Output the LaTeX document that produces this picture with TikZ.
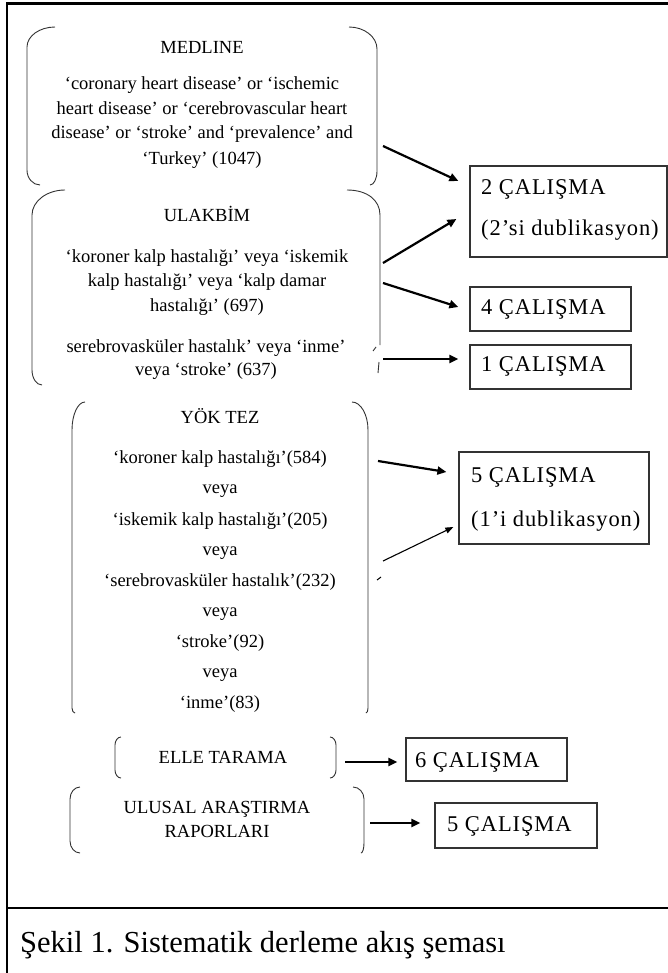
\documentclass[tikz,border=0pt]{standalone}
\usepackage{fontspec}
\setmainfont{Liberation Serif}
\newfontfamily\boxfont[LetterSpace=4]{Liberation Serif}
\usetikzlibrary{arrows.meta,calc}

% left and right bracket: x, top, bottom, top-curl width, top-curl height, bottom-curl width, bottom-curl height
\newcommand\lbrk[7]{%
 \draw[brk] ({#1+#4},#2) .. controls ({#1+0.45*#4},#2) and (#1,{#2+0.45*#5}) .. (#1,{#2+#5})
   -- (#1,{#3-#7}) .. controls (#1,{#3-0.45*#7}) and ({#1+0.45*#6},#3) .. ({#1+#6},#3);}
\newcommand\rbrk[7]{%
 \draw[brk] ({#1-#4},#2) .. controls ({#1-0.45*#4},#2) and (#1,{#2+0.45*#5}) .. (#1,{#2+#5})
   -- (#1,{#3-#7}) .. controls (#1,{#3-0.45*#7}) and ({#1-0.45*#6},#3) .. ({#1-#6},#3);}

\tikzset{
 brk/.style={line width=0.9pt, black!80},
 cbox/.style={draw=black!80, line width=1.2pt, rectangle, inner sep=0pt},
 arr/.style={line width=2.2pt, -{Triangle[length=9pt,width=8pt]}},
 thinarr/.style={line width=1.1pt, -{Triangle[length=8pt,width=6pt]}},
 txt/.style={anchor=base, inner sep=0pt, font=\fontsize{18.5}{22}\selectfont},
 btxt/.style={anchor=base west, inner sep=0pt, font=\boxfont\fontsize{22.5}{26}\selectfont},
 frame/.style={line width=2.5pt, black}
}

\begin{document}
\begin{tikzpicture}[x=1pt,y=-1pt]
\fill[white] (0,0) rectangle (668,973);
\useasboundingbox (0,0) rectangle (668,973);

% outer frame
\draw[frame] (7,973) -- (7,3.5) -- (668,3.5);
\draw[frame] (7,908) -- (668,908);

% ---------- brackets ----------
\lbrk{27}{27}{185}{28}{20}{13}{15}
\rbrk{377}{27}{185}{28}{22}{7}{14}
\lbrk{32}{190}{385}{33}{25}{10}{15}
\draw[brk] (347,190) .. controls (367,190) and (380,200) .. (380,215) -- (380,345);
\draw[brk] (373,351) -- (376,347);
\draw[brk] (379,362) -- (378,373);
\lbrk{72}{402}{713}{13}{28}{3}{5}
\rbrk{368}{402}{713}{16}{28}{2}{5}
\lbrk{115}{737}{778}{6}{8}{6}{8}
\rbrk{336}{737}{778}{6}{8}{6}{8}
\lbrk{70}{787}{853}{10}{12}{10}{12}
\rbrk{364}{787}{853}{11}{12}{3}{10}

% ---------- bracket texts ----------
\node[txt] (m0) at (202,54) {MEDLINE};
\node[txt] (m1) at (202,90) {‘coronary heart disease’ or ‘ischemic};
\node[txt] (m2) at (202,115) {heart disease’ or ‘cerebrovascular heart};
\node[txt] (m3) at (202,139) {disease’ or ‘stroke’ and ‘prevalence’ and};
\node[txt] (m4) at (202,165) {‘Turkey’ (1047)};

\node[txt] (u0) at (207,222) {ULAKBİM};
\node[txt] (u1) at (207,262) {‘koroner kalp hastalığı’ veya ‘iskemik};
\node[txt] (u2) at (207,287) {kalp hastalığı’ veya ‘kalp damar};
\node[txt] (u3) at (207,311) {hastalığı’ (697)};
\node[txt] (u4) at (206,352) {serebrovasküler hastalık’ veya ‘inme’};
\node[txt] (u5) at (206,375) {veya ‘stroke’ (637)};

\node[txt] (y0) at (220,423) {YÖK TEZ};
\node[txt] (y1) at (220,463) {‘koroner kalp hastalığı’(584)};
\node[txt] (y2) at (220,493) {veya};
\node[txt] (y3) at (220,525) {‘iskemik kalp hastalığı’(205)};
\node[txt] (y4) at (220,555) {veya};
\node[txt] (y5) at (220,586) {‘serebrovasküler hastalık’(232)};
\node[txt] (y6) at (220,616) {veya};
\node[txt] (y7) at (220,647) {‘stroke’(92)};
\node[txt] (y8) at (220,677) {veya};
\node[txt] (y9) at (220,708) {‘inme’(83)};

\node[txt] (e0) at (223,763) {ELLE TARAMA};
\node[txt] (r1) at (217,813) {ULUSAL ARAŞTIRMA};
\node[txt] (r2) at (217,837) {RAPORLARI};

% ---------- result boxes ----------
\node[cbox, minimum width=197pt, minimum height=91pt] (b2) at (568.5,211.5) {};
\node[cbox, minimum width=161pt, minimum height=44pt] (b4) at (550.5,309) {};
\node[cbox, minimum width=161pt, minimum height=44pt] (b1) at (550.5,367) {};
\node[cbox, minimum width=190pt, minimum height=92pt] (b5) at (554,498) {};
\node[cbox, minimum width=161pt, minimum height=43pt] (b6) at (486.5,759.5) {};
\node[cbox, minimum width=162pt, minimum height=45pt] (b5b) at (516,825.5) {};

\node[btxt] (b2t1) at (481,195) {2 ÇALIŞMA};
\node[btxt] (b2t2) at (481,236) {(2’si dublikasyon)};
\node[btxt] (b4t) at (481,314) {4 ÇALIŞMA};
\node[btxt] (b1t) at (481,371) {1 ÇALIŞMA};
\node[btxt] (b5t1) at (471,482) {5 ÇALIŞMA};
\node[btxt] (b5t2) at (471,526) {(1’i dublikasyon)};
\node[btxt] (b6t) at (415,767) {6 ÇALIŞMA};
\node[btxt] (b5bt) at (447,831) {5 ÇALIŞMA};

% ---------- arrows ----------
\coordinate (s1) at (383,146);
\coordinate (s2) at (383,263);
\coordinate (s3) at (383,283);
\coordinate (s4) at (383,359);
\coordinate (s5) at (378,461);
\coordinate (s6) at (383,561);
\coordinate (s7) at (345,762);
\coordinate (s8) at (370,823);

\draw[arr] (s1) -- ($(b2.west)+(-11,-30.5)$);
\draw[arr] (s2) -- ($(b2.west)+(-13,7.5)$);
\draw[arr] (s3) -- ($(b4.west)+(-11,-2)$);
\draw[arr] (s4) -- ($(b1.west)+(-11,-8)$);
\draw[arr] (s5) -- ($(b5.west)+(-12,-26)$);
\draw[thinarr] (s6) -- ($(b5.west)+(-5,29)$);
\draw[arr] (s7) -- ($(b6.west)+(-8,2.5)$);
\draw[arr] (s8) -- ($(b5b.west)+(-14,-2.5)$);
\draw[line width=1pt] (377,580) -- (381,577);

% ---------- caption ----------
\node[anchor=base west, inner sep=0pt, font=\fontsize{30.5}{36}\selectfont] (cap) at (20,952) {Şekil 1. Sistematik derleme akış şeması};
\end{tikzpicture}
\end{document}
